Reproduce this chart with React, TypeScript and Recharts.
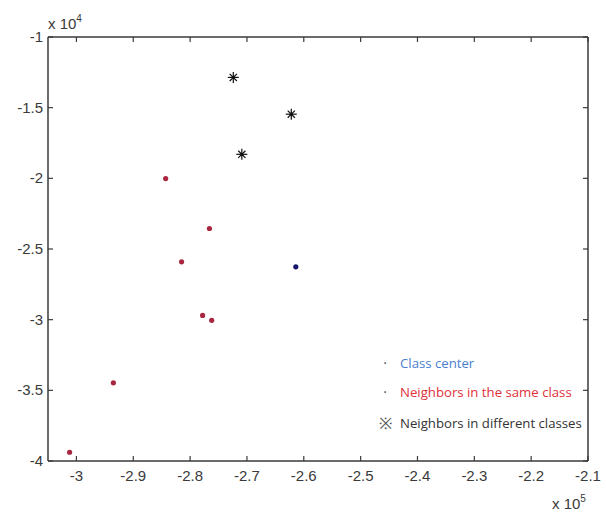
import { ScatterChart, Scatter, XAxis, YAxis } from "recharts";

// values in units of 1e5 (x) and 1e4 (y)
const centerX = [-2.614];
const centerY = [-2.626];
const sameClassX = [-2.843, -2.766, -2.815, -2.778, -2.762, -2.935, -3.012];
const sameClassY = [-2.002, -2.355, -2.591, -2.97, -3.005, -3.447, -3.938];
const diffClassX = [-2.724, -2.622, -2.709];
const diffClassY = [-1.286, -1.546, -1.83];

const xTicks = [-3, -2.9, -2.8, -2.7, -2.6, -2.5, -2.4, -2.3, -2.2, -2.1];
const yTicks = [-4, -3.5, -3, -2.5, -2, -1.5, -1];

const zip = (xs: number[], ys: number[]) => xs.map((x, i) => ({ x, y: ys[i] }));
const centerData = zip(centerX, centerY);
const sameData = zip(sameClassX, sameClassY);
const diffData = zip(diffClassX, diffClassY);

const AXIS = "#3a3a3a";
const TICK_FONT = { fontFamily: "'Liberation Sans', Arial, sans-serif", fontSize: 15, fill: "#3a3a3a" };
const TICK_LEN = 5;

function BottomTick(props: any) {
  const { x, y, payload } = props;
  return (
    <g>
      <line x1={x} y1={y} x2={x} y2={y - TICK_LEN} stroke={AXIS} strokeWidth={1.2} />
      <text x={x} y={y + 20} textAnchor="middle" {...TICK_FONT}>
        {String(payload.value)}
      </text>
    </g>
  );
}

function TopTick(props: any) {
  const { x, y } = props;
  return <line x1={x} y1={y} x2={x} y2={y + TICK_LEN} stroke={AXIS} strokeWidth={1.2} />;
}

function LeftTick(props: any) {
  const { x, y, payload } = props;
  return (
    <g>
      <line x1={x} y1={y} x2={x + TICK_LEN} y2={y} stroke={AXIS} strokeWidth={1.2} />
      <text x={x - 5} y={y + 5} textAnchor="end" {...TICK_FONT}>
        {String(payload.value)}
      </text>
    </g>
  );
}

function RightTick(props: any) {
  const { x, y } = props;
  return <line x1={x} y1={y} x2={x - TICK_LEN} y2={y} stroke={AXIS} strokeWidth={1.2} />;
}

function Dot({ cx, cy, fill }: any) {
  return <circle cx={cx} cy={cy} r={2.6} fill={fill} />;
}

function Star({ cx, cy }: any) {
  const r = 5.5;
  const d = 3.6;
  return (
    <g stroke="#111" strokeWidth={1.2}>
      <line x1={cx - r} y1={cy} x2={cx + r} y2={cy} />
      <line x1={cx} y1={cy - r} x2={cx} y2={cy + r} />
      <line x1={cx - d} y1={cy - d} x2={cx + d} y2={cy + d} />
      <line x1={cx - d} y1={cy + d} x2={cx + d} y2={cy - d} />
      <circle cx={cx} cy={cy} r={1.6} fill="#111" stroke="none" />
    </g>
  );
}

const legendRows = [
  { label: "Class center", color: "#4a7fd0", mark: "·", top: 353 },
  { label: "Neighbors in the same class", color: "#e0303a", mark: "·", top: 382 },
  { label: "Neighbors in different classes", color: "#333333", mark: "※", top: 412 },
];

export default function App() {
  return (
    <div style={{ position: "absolute", left: 0, top: 0, width: 606, height: 512, background: "#fff" }}>
      <ScatterChart width={606} height={512} margin={{ top: 36, right: 17, bottom: 21, left: 8 }}>
        <XAxis
          xAxisId="b"
          type="number"
          dataKey="x"
          domain={[-3.05, -2.1]}
          ticks={xTicks}
          allowDataOverflow
          height={30}
          tickSize={0}
          tickMargin={0}
          tickLine={false}
          axisLine={{ stroke: AXIS, strokeWidth: 1.5 }}
          tick={<BottomTick />}
        />
        <XAxis
          xAxisId="t"
          orientation="top"
          type="number"
          dataKey="x"
          domain={[-3.05, -2.1]}
          ticks={xTicks}
          allowDataOverflow
          height={1}
          tickSize={0}
          tickMargin={0}
          tickLine={false}
          axisLine={{ stroke: AXIS, strokeWidth: 1.5 }}
          tick={<TopTick />}
        />
        <YAxis
          yAxisId="l"
          type="number"
          dataKey="y"
          domain={[-4, -1]}
          ticks={yTicks}
          allowDataOverflow
          width={40}
          tickSize={0}
          tickMargin={0}
          tickLine={false}
          axisLine={{ stroke: AXIS, strokeWidth: 1.5 }}
          tick={<LeftTick />}
        />
        <YAxis
          yAxisId="r"
          orientation="right"
          type="number"
          dataKey="y"
          domain={[-4, -1]}
          ticks={yTicks}
          allowDataOverflow
          width={1}
          tickSize={0}
          tickMargin={0}
          tickLine={false}
          axisLine={{ stroke: AXIS, strokeWidth: 1.5 }}
          tick={<RightTick />}
        />
        {/* bound to the mirrored axes so they get drawn; draws nothing itself */}
        <Scatter
          xAxisId="t"
          yAxisId="r"
          data={diffData}
          isAnimationActive={false}
          shape={() => <g />}
        />
        <Scatter
          xAxisId="b"
          yAxisId="l"
          data={sameData}
          isAnimationActive={false}
          shape={(p: any) => <Dot {...p} fill="#a8263f" />}
        />
        <Scatter
          xAxisId="b"
          yAxisId="l"
          data={centerData}
          isAnimationActive={false}
          shape={(p: any) => <Dot {...p} fill="#16166a" />}
        />
        <Scatter
          xAxisId="b"
          yAxisId="l"
          data={diffData}
          isAnimationActive={false}
          shape={(p: any) => <Star {...p} />}
        />
      </ScatterChart>

      <div style={{ position: "absolute", left: 48, top: 15, ...scaleStyle }}>
        x 10<sup style={supStyle}>4</sup>
      </div>
      <div style={{ position: "absolute", left: 552, top: 495, ...scaleStyle }}>
        x 10<sup style={supStyle}>5</sup>
      </div>

      {legendRows.map((r) => (
        <div
          key={r.label}
          style={{
            position: "absolute",
            left: 370,
            top: r.top,
            fontFamily: "'Open Sans', sans-serif",
            fontSize: 13.2,
            whiteSpace: "nowrap",
            display: "flex",
            alignItems: "center",
          }}
        >
          <span style={{ width: 30, color: "#555", fontSize: r.mark === "※" ? 16 : 14, textAlign: "center" }}>
            {r.mark}
          </span>
          <span style={{ color: r.color }}>{r.label}</span>
        </div>
      ))}
    </div>
  );
}

const scaleStyle = {
  fontFamily: "'Liberation Sans', Arial, sans-serif",
  fontSize: 15,
  color: "#3a3a3a",
  lineHeight: "18px",
  whiteSpace: "nowrap" as const,
};

const supStyle = { fontSize: 10, verticalAlign: "top", position: "relative" as const, top: -5 };
